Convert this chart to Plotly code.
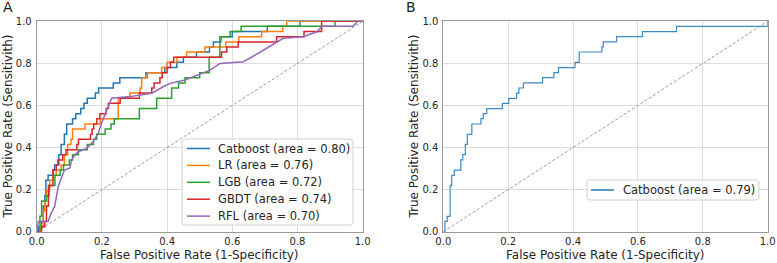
import plotly.graph_objects as go

# ---------------- Panel A data (ROC step points: at fpr, tpr jumps up) ----------------
cat_fpr = [0, 0.005, 0.015, 0.02, 0.025, 0.028, 0.035, 0.05, 0.055, 0.068, 0.075, 0.085, 0.092, 0.11, 0.12, 0.135, 0.145, 0.155, 0.18, 0.19, 0.235, 0.255, 0.335, 0.393, 0.43, 0.45, 0.49, 0.53, 0.542, 0.565, 0.60, 0.707, 0.808, 1.0]
cat_tpr = [0, 0.024, 0.049, 0.122, 0.171, 0.244, 0.268, 0.293, 0.317, 0.366, 0.415, 0.463, 0.512, 0.537, 0.561, 0.585, 0.610, 0.634, 0.659, 0.683, 0.707, 0.732, 0.756, 0.780, 0.805, 0.829, 0.854, 0.878, 0.902, 0.927, 0.951, 0.976, 1.0, 1.0]

lr_fpr = [0, 0.01, 0.02, 0.025, 0.03, 0.04, 0.05, 0.06, 0.075, 0.085, 0.095, 0.105, 0.11, 0.148, 0.195, 0.25, 0.286, 0.317, 0.322, 0.34, 0.383, 0.40, 0.43, 0.46, 0.516, 0.58, 0.62, 0.69, 0.755, 0.767, 1.0]
lr_tpr = [0, 0.024, 0.098, 0.146, 0.195, 0.244, 0.268, 0.293, 0.317, 0.366, 0.415, 0.439, 0.488, 0.512, 0.537, 0.634, 0.659, 0.683, 0.732, 0.756, 0.780, 0.805, 0.829, 0.854, 0.878, 0.902, 0.927, 0.951, 0.976, 1.0, 1.0]

lgb_fpr = [0, 0.01, 0.015, 0.03, 0.038, 0.056, 0.072, 0.082, 0.10, 0.11, 0.128, 0.155, 0.174, 0.184, 0.21, 0.228, 0.238, 0.315, 0.368, 0.414, 0.435, 0.455, 0.50, 0.529, 0.562, 0.593, 0.627, 0.915, 1.0]
lgb_tpr = [0, 0.073, 0.146, 0.171, 0.220, 0.268, 0.293, 0.317, 0.341, 0.366, 0.390, 0.415, 0.439, 0.463, 0.488, 0.512, 0.537, 0.585, 0.634, 0.683, 0.707, 0.732, 0.756, 0.829, 0.927, 0.951, 0.976, 1.0, 1.0]

gbdt_fpr = [0, 0.015, 0.025, 0.03, 0.036, 0.05, 0.06, 0.065, 0.08, 0.09, 0.123, 0.128, 0.165, 0.17, 0.175, 0.184, 0.194, 0.213, 0.22, 0.256, 0.315, 0.353, 0.36, 0.378, 0.385, 0.40, 0.41, 0.42, 0.567, 0.583, 0.618, 0.736, 0.82, 0.874, 1.0]
gbdt_tpr = [0, 0.024, 0.049, 0.122, 0.220, 0.293, 0.317, 0.341, 0.366, 0.390, 0.415, 0.439, 0.463, 0.488, 0.512, 0.537, 0.561, 0.585, 0.610, 0.634, 0.659, 0.683, 0.707, 0.732, 0.756, 0.780, 0.805, 0.829, 0.854, 0.878, 0.902, 0.927, 0.951, 1.0, 1.0]

# RFL is drawn with straight segments between points
rfl_fpr = [0, 0.005, 0.035, 0.044, 0.055, 0.061, 0.066, 0.077, 0.085, 0.102, 0.107, 0.117, 0.128, 0.153, 0.174, 0.189, 0.199, 0.215, 0.23, 0.286, 0.353, 0.388, 0.409, 0.455, 0.496, 0.532, 0.562, 0.634, 0.685, 0.73, 0.756, 0.817, 0.86, 0.875, 0.97, 0.985, 1.0]
rfl_tpr = [0, 0.049, 0.049, 0.087, 0.12, 0.166, 0.214, 0.261, 0.293, 0.303, 0.341, 0.364, 0.38, 0.396, 0.428, 0.468, 0.515, 0.578, 0.634, 0.642, 0.658, 0.689, 0.705, 0.721, 0.745, 0.768, 0.80, 0.808, 0.853, 0.894, 0.919, 0.927, 0.95, 0.976, 0.976, 1.0, 1.0]

names_a = ["Catboost (area = 0.80)", "LR (area = 0.76)", "LGB (area = 0.72)", "GBDT (area = 0.74)", "RFL (area = 0.70)"]
colors_a = ["#1f77b4", "#ff7f0e", "#2ca02c", "#d62728", "#9467bd"]

# ---------------- Panel B data ----------------
b_fpr = [0, 0.005, 0.012, 0.021, 0.026, 0.034, 0.054, 0.060, 0.068, 0.074, 0.088, 0.116, 0.123, 0.134, 0.182, 0.202, 0.226, 0.233, 0.247, 0.306, 0.341, 0.355, 0.406, 0.419, 0.489, 0.493, 0.534, 0.614, 0.719, 1.0, 1.0]
b_tpr = [0, 0.049, 0.073, 0.220, 0.268, 0.293, 0.341, 0.366, 0.415, 0.463, 0.512, 0.537, 0.561, 0.585, 0.610, 0.634, 0.659, 0.683, 0.707, 0.732, 0.756, 0.780, 0.805, 0.854, 0.878, 0.902, 0.927, 0.951, 0.976, 0.976, 1.0]
name_b = "Catboost (area = 0.79)"
color_b = "#3c8ac6"

ticks = [0, 0.2, 0.4, 0.6, 0.8, 1.0]
tick_text = ["0.0", "0.2", "0.4", "0.6", "0.8", "1.0"]
x_title = "False Positive Rate (1-Specificity)"
y_title = "True Positive Rate (Sensitivith)"

FONT = "DejaVu Sans"
W, H = 777, 263


def fx(px):
    return px / W


def fy(py):
    return 1 - py / H


fig = go.Figure()

series_a = [(cat_fpr, cat_tpr, "hv"), (lr_fpr, lr_tpr, "hv"), (lgb_fpr, lgb_tpr, "hv"),
            (gbdt_fpr, gbdt_tpr, "hv"), (rfl_fpr, rfl_tpr, "linear")]

for xa, ya in [("x", "y"), ("x2", "y2")]:
    fig.add_trace(go.Scatter(x=[0, 1], y=[0, 1], mode="lines", xaxis=xa, yaxis=ya,
                             line=dict(color="#808080", width=0.8, dash="3px,2px"),
                             showlegend=False, hoverinfo="skip"))

for (sx, sy, shape), nm, col in zip(series_a, names_a, colors_a):
    fig.add_trace(go.Scatter(x=sx, y=sy, mode="lines", name=nm, xaxis="x", yaxis="y",
                             line=dict(color=col, width=1.5, shape=shape), showlegend=False))

fig.add_trace(go.Scatter(x=b_fpr, y=b_tpr, mode="lines", name=name_b, xaxis="x2", yaxis="y2",
                         line=dict(color=color_b, width=1.2, shape="hv"), showlegend=False))

ydom = [fy(231.7), fy(21.3)]
axis_common = dict(range=[0, 1], tickvals=ticks, ticktext=tick_text, showgrid=True,
                   gridcolor="#dcdcdc", gridwidth=1, zeroline=False, showline=True,
                   linecolor="#9a9a9a", linewidth=1, mirror=True, ticks="", ticklen=0,
                   tickfont=dict(family=FONT, size=10, color="#262626"),
                   automargin=False, fixedrange=True)

fig.update_layout(
    width=W, height=H,
    margin=dict(l=0, r=0, t=0, b=0),
    paper_bgcolor="white", plot_bgcolor="white",
    xaxis=dict(domain=[fx(36.7), fx(362.7)], anchor="y", ticklabelstandoff=0, **axis_common),
    yaxis=dict(domain=ydom, anchor="x", ticklabelstandoff=2, **axis_common),
    xaxis2=dict(domain=[fx(443.3), fx(767.7)], anchor="y2", ticklabelstandoff=0, **axis_common),
    yaxis2=dict(domain=ydom, anchor="x2", ticklabelstandoff=2, **axis_common),
    showlegend=False,
)


def rounded_box(x0, y0, x1, y1, r=3):
    # pixel box -> paper path with rounded corners
    X = lambda p: fx(p)
    Y = lambda p: fy(p)
    return (f"M {X(x0 + r)} {Y(y0)} L {X(x1 - r)} {Y(y0)} Q {X(x1)} {Y(y0)} {X(x1)} {Y(y0 + r)} "
            f"L {X(x1)} {Y(y1 - r)} Q {X(x1)} {Y(y1)} {X(x1 - r)} {Y(y1)} "
            f"L {X(x0 + r)} {Y(y1)} Q {X(x0)} {Y(y1)} {X(x0)} {Y(y1 - r)} "
            f"L {X(x0)} {Y(y0 + r)} Q {X(x0)} {Y(y0)} {X(x0 + r)} {Y(y0)} Z")


def add_legend(box, entries, first_y, step, line_x0, line_x1, text_x):
    fig.add_shape(type="path", path=rounded_box(*box), xref="paper", yref="paper",
                  line=dict(color="#d0d0d0", width=1), fillcolor="rgba(255,255,255,0.85)",
                  layer="above")
    for i, (nm, col) in enumerate(entries):
        yy = first_y + i * step
        fig.add_shape(type="line", x0=fx(line_x0), x1=fx(line_x1), y0=fy(yy), y1=fy(yy),
                      xref="paper", yref="paper", line=dict(color=col, width=1.5), layer="above")
        fig.add_annotation(text=nm, x=fx(text_x), y=fy(yy), xref="paper", yref="paper",
                           xanchor="left", yanchor="middle", showarrow=False,
                           font=dict(family=FONT, size=11.5, color="#262626"))


add_legend((182, 139, 353, 225), list(zip(names_a, colors_a)), 148.5, 16.9, 187, 210, 216)
add_legend((587, 180, 759, 200), [(name_b, "#1f77b4")], 190, 17, 591, 614, 621)

for txt, px in [("A", 1), ("B", 404)]:
    fig.add_annotation(text=txt, x=fx(px), y=fy(7), xref="paper", yref="paper",
                       xanchor="left", yanchor="middle", showarrow=False,
                       font=dict(family=FONT, size=14, color="#222"))

for cx in [199.7, 605.5]:
    fig.add_annotation(text=x_title, x=fx(cx), y=fy(255), xref="paper", yref="paper",
                       xanchor="center", yanchor="middle", showarrow=False,
                       font=dict(family=FONT, size=12, color="#262626"))
for cx in [8, 414]:
    fig.add_annotation(text=y_title, x=fx(cx), y=fy(126.5), xref="paper", yref="paper",
                       xanchor="center", yanchor="middle", showarrow=False, textangle=-90,
                       font=dict(family=FONT, size=12, color="#262626"))

# remove the default 8px page margin so the figure sits at the window's corner
fig.write_html("out.html", config={"displayModeBar": False},
               post_script="document.body.style.margin='0';")
